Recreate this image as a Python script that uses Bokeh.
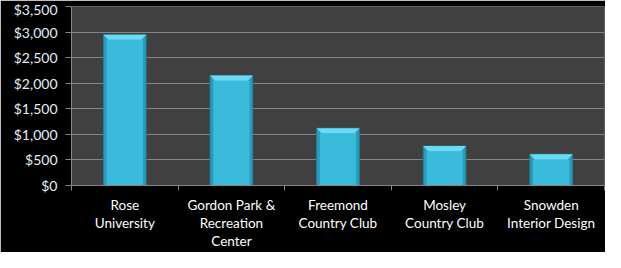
from bokeh.plotting import figure
from bokeh.models import FixedTicker, Range1d, NumeralTickFormatter
from bokeh.embed import file_html
from bokeh.resources import INLINE

categories = ["Rose\nUniversity", "Gordon Park &\nRecreation\nCenter", "Freemond\nCountry Club",
              "Mosley\nCountry Club", "Snowden\nInterior Design"]
values = [2950, 2150, 1120, 770, 610]
y_ticks = [0, 500, 1000, 1500, 2000, 2500, 3000, 3500]

n = len(categories)
centers = [i + 0.5 for i in range(n)]
bar_w = 0.4

p = figure(width=605, height=252, output_backend="svg", toolbar_location=None,
           x_range=Range1d(0, n), y_range=Range1d(0, 3500),
           min_border_left=71, min_border_right=1, min_border_top=6, min_border_bottom=0)
p.background_fill_color = "#404040"
p.border_fill_color = "#000000"
p.outline_line_color = None

# bars
dx = 0.045
dy = 100
p.vbar(x=centers, top=values, width=bar_w, bottom=0, fill_color="#2a9cbb", line_color="#237f98", line_width=1)
p.vbar(x=centers, top=[v - dy for v in values], width=bar_w - 2 * 0.03, bottom=0,
       fill_color="#3bbbdb", line_color=None)
xs = [[c - bar_w / 2, c + bar_w / 2, c + bar_w / 2 - dx, c - bar_w / 2 + dx] for c in centers]
ys = [[v, v, v - dy, v - dy] for v in values]
p.patches(xs=xs, ys=ys, fill_color="#6adbf2", line_color=None)

# grid
p.xgrid.grid_line_color = None
p.ygrid.grid_line_color = "#858585"
p.ygrid.grid_line_width = 1
p.ygrid.ticker = FixedTicker(ticks=y_ticks)

# y axis
p.yaxis.ticker = FixedTicker(ticks=y_ticks)
p.yaxis.formatter = NumeralTickFormatter(format="$0,0")
p.yaxis.axis_line_color = "#868686"
p.yaxis.major_tick_line_color = "#868686"
p.yaxis.major_tick_out = 6
p.yaxis.major_tick_in = 0
p.yaxis.minor_tick_line_color = None
p.yaxis.major_label_text_color = "#e4eef6"
p.yaxis.major_label_text_font = "Lato"
p.yaxis.major_label_text_font_size = "14px"
p.yaxis.major_label_standoff = 8

# x axis
p.xaxis.ticker = FixedTicker(ticks=centers, minor_ticks=list(range(n + 1)))
p.xaxis.major_label_overrides = {c: lab for c, lab in zip(centers, categories)}
p.xaxis.axis_line_color = "#868686"
p.xaxis.major_tick_line_color = None
p.xaxis.minor_tick_line_color = "#868686"
p.xaxis.minor_tick_out = 5
p.xaxis.minor_tick_in = 0
p.xaxis.major_label_text_color = "#ffffff"
p.xaxis.major_label_text_font = "Lato"
p.xaxis.major_label_text_font_size = "13.5px"
p.xaxis.major_label_standoff = 5
p.xaxis.major_label_text_line_height = 1.15

open("out.html", "w").write(file_html(p, INLINE))
